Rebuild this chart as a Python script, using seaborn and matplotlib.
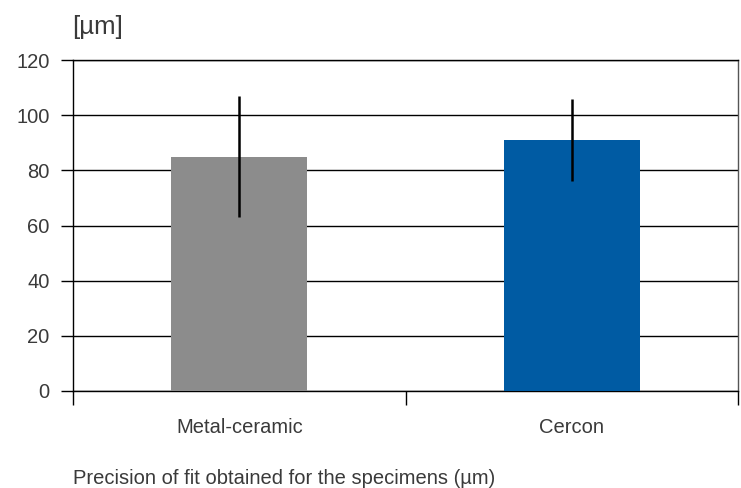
import matplotlib
matplotlib.use("Agg")
import matplotlib.pyplot as plt
import seaborn as sns
import pandas as pd

categories = ["Metal-ceramic", "Cercon"]
means = [85, 91]
errors = [22, 15]
colors = ["#8c8c8c", "#005ba3"]
yticks = [0, 20, 40, 60, 80, 100, 120]

sns.set_style("white")
plt.rcParams["font.family"] = ["Liberation Sans", "DejaVu Sans"]
plt.rcParams["xtick.bottom"] = True
plt.rcParams["ytick.left"] = True

fig = plt.figure(figsize=(7.41, 4.88), dpi=100)
ax = fig.add_axes([73/741, 97/488, (738-73)/741, 331/488])

df = pd.DataFrame({"cat": categories, "val": means})
sns.barplot(data=df, x="cat", y="val", hue="cat", palette=colors, width=0.41,
            ax=ax, legend=False, errorbar=None, saturation=1, zorder=3,
            linewidth=0, edgecolor="none")

for p, e in zip(ax.patches, errors):
    cx = p.get_x() + p.get_width() / 2
    ax.errorbar(cx, p.get_height(), yerr=e, color="black", lw=1.8,
                capsize=0, zorder=4)

ax.set_xlim(-0.5, 1.5)
ax.set_ylim(0, 120)
ax.set_yticks(yticks)
ax.yaxis.grid(True, color="black", lw=1.0, zorder=0)
ax.set_axisbelow(True)

ax.set_xticks([-0.5, 0.5, 1.5])
ax.set_xticklabels(["", "", ""])
ax.set_xticks([0, 1], minor=True)
ax.set_xticklabels(categories, minor=True)
ax.tick_params(axis="x", which="major", bottom=True, direction="out", length=10, width=1, color="black")
ax.tick_params(axis="x", which="minor", bottom=True, length=0, pad=19.5, labelsize=14.5, labelcolor="#3a3a3a")
ax.tick_params(axis="y", which="major", left=True, direction="out", length=9, width=1, color="black",
               labelsize=14.5, labelcolor="#3a3a3a", pad=8)
ax.set_xlabel("")
ax.set_ylabel("")

for s in ["left", "bottom", "top"]:
    ax.spines[s].set_visible(True)
    ax.spines[s].set_color("black")
    ax.spines[s].set_linewidth(1.0)
ax.spines["right"].set_visible(True)
ax.spines["right"].set_color("#555555")
ax.spines["right"].set_linewidth(1.0)

fig.text(72/741, 1 - 27/488, "[µm]", fontsize=18.5, color="#3a3a3a", va="center", ha="left")
fig.text(73/741, 1 - 478/488, "Precision of fit obtained for the specimens (µm)",
         fontsize=14.5, color="#3a3a3a", va="center", ha="left")

fig.savefig("out.png", dpi=100)
